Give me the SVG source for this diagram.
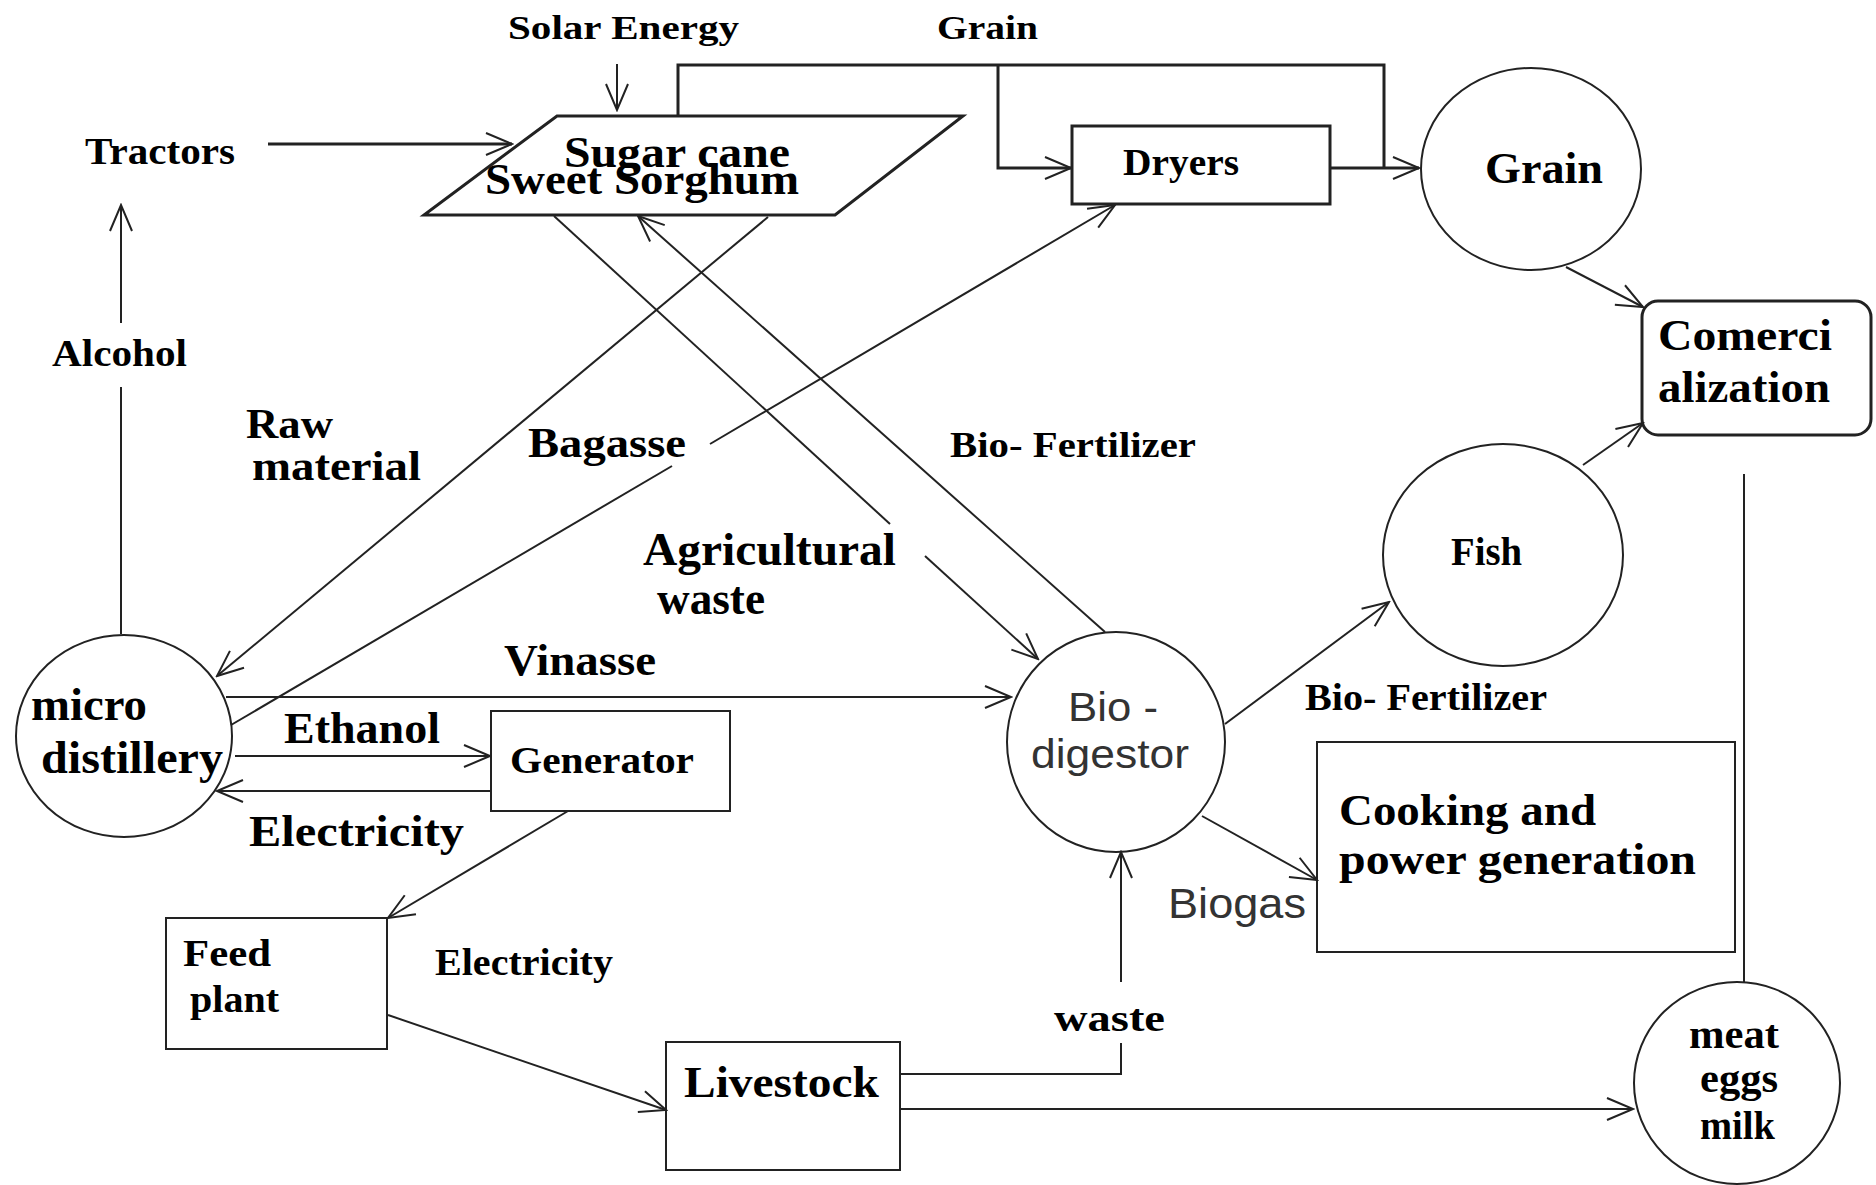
<svg xmlns="http://www.w3.org/2000/svg" width="1876" height="1185" viewBox="0 0 1876 1185">
<style>
.bg{fill:#fff}
.sh{fill:none;stroke:#222;stroke-width:2}
.shb{fill:none;stroke:#222;stroke-width:3}
.ln{fill:none;stroke:#222;stroke-width:2}
.lnb{fill:none;stroke:#222;stroke-width:3}
.t{font-family:"Liberation Serif","Times New Roman",serif;font-weight:bold;fill:#000}
.s{font-family:"Liberation Sans",Arial,sans-serif;fill:#333}
</style>
<defs>
<marker id="arr" viewBox="-30 -15 32 30" refX="0" refY="0" markerWidth="32" markerHeight="30" markerUnits="userSpaceOnUse" orient="auto">
<path d="M-26,-11 L0,0 L-26,11" fill="none" stroke="#222" stroke-width="2"/>
</marker>
</defs>
<rect class="bg" x="0" y="0" width="1876" height="1185"/>

<g id="connectors">
<path class="ln" d="M617,64 L617,110" marker-end="url(#arr)"/>
<path class="lnb" d="M268,144 L512,144" marker-end="url(#arr)"/>
<path class="lnb" d="M678,116 L678,65 L1384,65 L1384,168"/>
<path class="lnb" d="M998,65 L998,168 L1071,168" marker-end="url(#arr)"/>
<path class="lnb" d="M1330,168 L1419,168" marker-end="url(#arr)"/>
<path class="ln" d="M121,634 L121,387"/>
<path class="ln" d="M121,323 L121,205" marker-end="url(#arr)"/>
<path class="ln" d="M768,217 L217,676" marker-end="url(#arr)"/>
<path class="ln" d="M231,725 L672,466"/>
<path class="ln" d="M710,444 L1115,205" marker-end="url(#arr)"/>
<path class="ln" d="M554,216 L890,524"/>
<path class="ln" d="M925,556 L1038,659" marker-end="url(#arr)"/>
<path class="ln" d="M1105,632 L638,216" marker-end="url(#arr)"/>
<path class="ln" d="M226,697 L1011,697" marker-end="url(#arr)"/>
<path class="ln" d="M235,756 L490,756" marker-end="url(#arr)"/>
<path class="ln" d="M491,791 L217,791" marker-end="url(#arr)"/>
<path class="ln" d="M568,811 L388,918" marker-end="url(#arr)"/>
<path class="ln" d="M388,1015 L666,1110" marker-end="url(#arr)"/>
<path class="ln" d="M900,1074 L1121,1074 L1121,1043"/>
<path class="ln" d="M1121,982 L1121,852" marker-end="url(#arr)"/>
<path class="ln" d="M900,1109 L1633,1109" marker-end="url(#arr)"/>
<path class="ln" d="M1225,724 L1389,602" marker-end="url(#arr)"/>
<path class="ln" d="M1202,816 L1317,880" marker-end="url(#arr)"/>
<path class="ln" d="M1566,267 L1643,307" marker-end="url(#arr)"/>
<path class="ln" d="M1583,465 L1643,423" marker-end="url(#arr)"/>
<path class="ln" d="M1744,474 L1744,982"/>
</g>

<g id="labels">
<text class="t" x="508" y="39" font-size="34" textLength="231" lengthAdjust="spacingAndGlyphs">Solar Energy</text>
<text class="t" x="937" y="39" font-size="34" textLength="101" lengthAdjust="spacingAndGlyphs">Grain</text>
<text class="t" x="52" y="366" font-size="37" textLength="135" lengthAdjust="spacingAndGlyphs">Alcohol</text>
<text class="t" x="246" y="438" font-size="42" textLength="87" lengthAdjust="spacingAndGlyphs">Raw</text>
<text class="t" x="252" y="480" font-size="42" textLength="169" lengthAdjust="spacingAndGlyphs">material</text>
<text class="t" x="528" y="457" font-size="42" textLength="158" lengthAdjust="spacingAndGlyphs">Bagasse</text>
<text class="t" x="950" y="457" font-size="36" textLength="246" lengthAdjust="spacingAndGlyphs">Bio- Fertilizer</text>
<text class="t" x="643" y="565" font-size="46" textLength="253" lengthAdjust="spacingAndGlyphs">Agricultural</text>
<text class="t" x="657" y="614" font-size="46" textLength="108" lengthAdjust="spacingAndGlyphs">waste</text>
<text class="t" x="504" y="675" font-size="45" textLength="152" lengthAdjust="spacingAndGlyphs">Vinasse</text>
<text class="t" x="284" y="743" font-size="45" textLength="156" lengthAdjust="spacingAndGlyphs">Ethanol</text>
<text class="t" x="249" y="846" font-size="45" textLength="215" lengthAdjust="spacingAndGlyphs">Electricity</text>
<text class="t" x="435" y="975" font-size="37" textLength="178" lengthAdjust="spacingAndGlyphs">Electricity</text>
<text class="t" x="1054" y="1031" font-size="38" textLength="111" lengthAdjust="spacingAndGlyphs">waste</text>
<text class="s" x="1168" y="918" font-size="43" textLength="138" lengthAdjust="spacingAndGlyphs">Biogas</text>
<text class="t" x="1305" y="710" font-size="37" textLength="242" lengthAdjust="spacingAndGlyphs">Bio- Fertilizer</text>
</g>

<g id="tractors">
<text class="t" x="85" y="164" font-size="37" textLength="150" lengthAdjust="spacingAndGlyphs">Tractors</text>
</g>

<g id="sugarcane">
<polygon class="shb" points="557,116 963,116 835,215 424,215"/>
<text class="t" x="564" y="167" font-size="44" textLength="226" lengthAdjust="spacingAndGlyphs">Sugar cane</text>
<text class="t" x="485" y="194" font-size="44" textLength="314" lengthAdjust="spacingAndGlyphs">Sweet Sorghum</text>
</g>

<g id="dryers">
<rect class="shb" x="1072" y="126" width="258" height="78"/>
<text class="t" x="1123" y="175" font-size="38" textLength="116" lengthAdjust="spacingAndGlyphs">Dryers</text>
</g>

<g id="grain">
<ellipse class="sh" cx="1531" cy="169" rx="110" ry="101"/>
<text class="t" x="1485" y="183" font-size="45" textLength="118" lengthAdjust="spacingAndGlyphs">Grain</text>
</g>

<g id="comercialization">
<rect class="shb" x="1642" y="301" width="229" height="134" rx="16"/>
<text class="t" x="1658" y="350" font-size="45" textLength="174" lengthAdjust="spacingAndGlyphs">Comerci</text>
<text class="t" x="1658" y="402" font-size="45" textLength="172" lengthAdjust="spacingAndGlyphs">alization</text>
</g>

<g id="fish">
<ellipse class="sh" cx="1503" cy="555" rx="120" ry="111"/>
<text class="t" x="1451" y="565" font-size="40" textLength="71" lengthAdjust="spacingAndGlyphs">Fish</text>
</g>

<g id="biodigestor">
<ellipse class="sh" cx="1116" cy="742" rx="109" ry="110"/>
<text class="s" x="1068" y="721" font-size="40" textLength="90" lengthAdjust="spacingAndGlyphs">Bio -</text>
<text class="s" x="1031" y="768" font-size="40" textLength="158" lengthAdjust="spacingAndGlyphs">digestor</text>
</g>

<g id="cooking">
<rect class="sh" x="1317" y="742" width="418" height="210"/>
<text class="t" x="1339" y="825" font-size="45" textLength="257" lengthAdjust="spacingAndGlyphs">Cooking and</text>
<text class="t" x="1339" y="874" font-size="45" textLength="357" lengthAdjust="spacingAndGlyphs">power generation</text>
</g>

<g id="products">
<ellipse class="sh" cx="1737" cy="1083" rx="103" ry="101"/>
<text class="t" x="1689" y="1048" font-size="40" textLength="90" lengthAdjust="spacingAndGlyphs">meat</text>
<text class="t" x="1700" y="1092" font-size="40" textLength="78" lengthAdjust="spacingAndGlyphs">eggs</text>
<text class="t" x="1700" y="1139" font-size="40" textLength="75" lengthAdjust="spacingAndGlyphs">milk</text>
</g>

<g id="microdistillery">
<ellipse class="sh" cx="124" cy="736" rx="108" ry="101"/>
<text class="t" x="31" y="720" font-size="46" textLength="116" lengthAdjust="spacingAndGlyphs">micro</text>
<text class="t" x="41" y="773" font-size="46" textLength="182" lengthAdjust="spacingAndGlyphs">distillery</text>
</g>

<g id="generator">
<rect class="sh" x="491" y="711" width="239" height="100"/>
<text class="t" x="510" y="773" font-size="37" textLength="184" lengthAdjust="spacingAndGlyphs">Generator</text>
</g>

<g id="feedplant">
<rect class="sh" x="166" y="918" width="221" height="131"/>
<text class="t" x="183" y="966" font-size="38" textLength="88" lengthAdjust="spacingAndGlyphs">Feed</text>
<text class="t" x="190" y="1012" font-size="38" textLength="89" lengthAdjust="spacingAndGlyphs">plant</text>
</g>

<g id="livestock">
<rect class="sh" x="666" y="1042" width="234" height="128"/>
<text class="t" x="684" y="1097" font-size="44" textLength="195" lengthAdjust="spacingAndGlyphs">Livestock</text>
</g>
</svg>
